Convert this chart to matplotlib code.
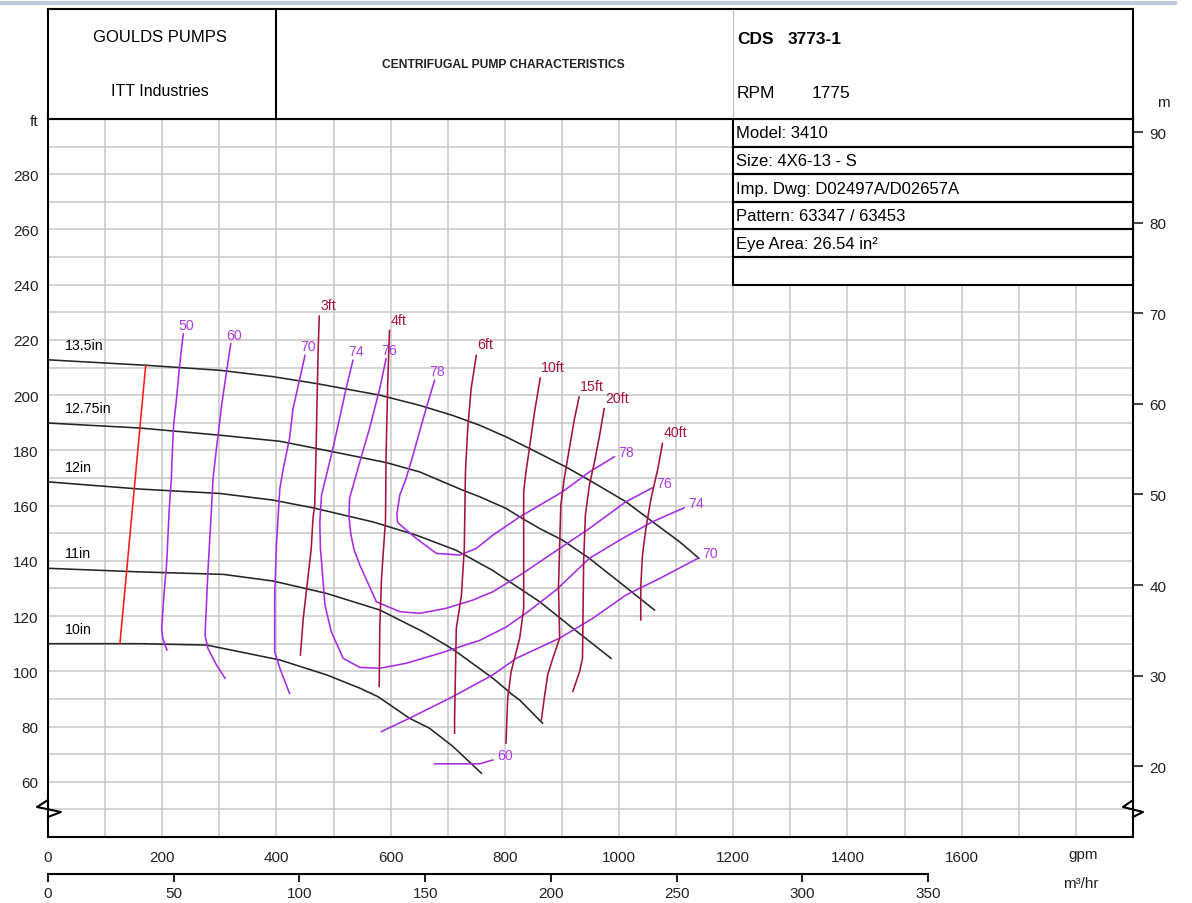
import numpy as np
import matplotlib.pyplot as plt
from matplotlib.lines import Line2D
from matplotlib.patches import Rectangle

plt.rcParams['font.family'] = ['Liberation Sans', 'DejaVu Sans']

W, H = 1192, 904
FT_PER_M = 3.28084
GPM_PER_M3H = 4.402868

# ---- head / capacity curves per impeller diameter (gpm, ft) ----
dia_labels = ['13.5in', '12.75in', '12in', '11in', '10in']
h135_q = [0, 173, 301, 394, 470, 581, 651, 708, 756, 802, 843, 907, 948, 1012, 1059, 1106, 1140]
h135_h = [212.8, 210.8, 209.0, 206.7, 204.2, 200.0, 196.3, 192.7, 189.1, 184.9, 180.7, 174.0, 169.2, 161.4, 154.1, 146.9, 140.9]
h1275_q = [0, 161, 301, 406, 499, 592, 651, 726, 756, 802, 831, 861, 901, 948, 1000, 1062]
h1275_h = [189.9, 188.1, 185.5, 183.3, 179.5, 175.6, 172.2, 165.6, 163.2, 159.0, 155.3, 151.7, 147.5, 140.9, 132.4, 122.2]
h12_q = [0, 161, 301, 394, 464, 569, 645, 715, 779, 826, 861, 919, 986]
h12_h = [168.6, 166.0, 164.4, 162.0, 159.2, 154.1, 149.3, 143.8, 136.5, 130.0, 125.2, 115.6, 104.7]
h11_q = [0, 161, 307, 394, 488, 581, 657, 697, 715, 779, 814, 826, 866]
h11_h = [137.3, 136.0, 135.1, 132.7, 128.2, 122.2, 114.3, 109.5, 107.1, 97.5, 91.4, 89.6, 81.2]
h10_q = [0, 161, 278, 406, 488, 546, 578, 633, 668, 709, 759]
h10_h = [110.0, 110.0, 109.5, 104.1, 98.7, 93.9, 90.8, 83.0, 79.4, 72.8, 63.1]

# ---- efficiency contours (%) ----
eff50_q = [237, 234, 230, 225, 220, 218, 216, 212, 208, 203, 199, 201, 208]
eff50_h = [222.2, 217.4, 209.6, 198.7, 189.1, 180.7, 169.8, 157.8, 139.7, 127.6, 115.6, 112.0, 107.7]
eff60_q = [320, 313, 304, 295, 289, 286, 280, 275, 280, 295, 310]
eff60_h = [218.6, 209.0, 196.3, 180.7, 169.8, 157.8, 136.0, 113.1, 108.3, 102.3, 97.5]
eff60b_q = [677, 756, 779]
eff60b_h = [66.5, 66.5, 67.9]
eff70_q = [450, 441, 429, 423, 412, 406, 400, 397, 397, 406, 423]
eff70_h = [214.4, 206.0, 195.1, 184.3, 173.4, 166.2, 145.7, 127.6, 107.1, 101.1, 92.0]
eff70b_q = [584, 633, 703, 779, 820, 896, 954, 1012, 1071, 1138]
eff70b_h = [78.2, 83.0, 90.2, 98.7, 104.7, 112.0, 119.2, 127.6, 133.6, 140.9]
eff74_q = [534, 522, 499, 479, 476, 477, 479, 485, 496, 517, 546, 581, 627, 686, 756, 802, 840, 890, 948, 1006, 1059, 1114]
eff74_h = [212.6, 202.4, 180.7, 163.8, 154.1, 144.5, 139.7, 124.0, 114.3, 104.7, 101.4, 101.1, 102.9, 106.5, 111.2, 116.0, 121.5, 129.5, 140.9, 148.1, 154.2, 159.2]
eff76_q = [592, 581, 563, 546, 528, 527, 530, 536, 546, 575, 616, 651, 697, 744, 779, 831, 896, 948, 1012, 1059]
eff76_h = [213.2, 202.4, 187.9, 175.8, 162.6, 156.0, 150.0, 144.0, 138.5, 125.2, 121.6, 121.0, 122.8, 125.8, 128.8, 135.4, 144.5, 151.7, 161.4, 166.5]
eff78_q = [677, 662, 639, 627, 616, 611, 612, 621, 645, 680, 721, 750, 779, 826, 901, 948, 992]
eff78_h = [205.4, 195.1, 178.2, 169.8, 163.8, 157.0, 154.0, 152.3, 148.1, 142.7, 142.1, 144.5, 149.3, 155.9, 165.0, 172.2, 177.7]

# ---- NPSHr curves ----
n3_q = [475, 473, 471, 469, 467, 464, 461, 455, 447, 442]
n3_h = [228.6, 215.6, 196.3, 175.8, 160.1, 155.3, 144.5, 133.6, 119.2, 105.9]
n4_q = [598, 595, 592, 591, 590, 584, 581, 580]
n4_h = [223.4, 204.8, 178.2, 154.1, 151.7, 133.6, 115.6, 94.5]
n6_q = [750, 741, 735, 731, 729, 724, 715, 712, 712]
n6_h = [214.4, 202.4, 187.9, 172.2, 144.5, 127.6, 115.6, 83.0, 77.6]
n10_q = [862, 852, 843, 837, 833, 833, 833, 826, 811, 805, 802]
n10_h = [206.2, 193.9, 180.7, 172.2, 165.0, 130.6, 122.8, 112.0, 99.9, 90.2, 74.0]
n15_q = [930, 922, 913, 904, 898, 896, 894, 896, 884, 875, 869, 864]
n15_h = [199.3, 191.5, 180.7, 169.8, 160.1, 145.7, 130.6, 112.0, 104.7, 98.7, 90.2, 82.4]
n20_q = [974, 966, 957, 948, 941, 938, 936, 931, 919]
n20_h = [195.1, 185.5, 175.8, 167.4, 156.5, 139.7, 104.7, 99.9, 92.7]
n40_q = [1076, 1068, 1056, 1047, 1041, 1038, 1038]
n40_h = [182.5, 173.4, 162.6, 151.7, 142.1, 130.6, 118.6]

# minimum flow line
red_q = [171, 126]
red_h = [210.7, 110.1]

info_rows = ['Model: 3410', 'Size: 4X6-13 - S', 'Imp. Dwg: D02497A/D02657A',
             'Pattern: 63347 / 63453', 'Eye Area: 26.54 in\u00b2', '']

BLACK = '#262626'
PURPLE = '#a52ce4'
PURPLE_TXT = '#b03ce8'
MAROON = '#a3143c'
LW = 1.15

fig = plt.figure(figsize=(W / 100, H / 100), dpi=100)
ax = fig.add_axes([48 / W, 1 - 838 / H, 1085 / W, 718 / H])
ax.set_xlim(0, 1900)
ax.set_ylim(40, 300)
ax.set_xticks(np.arange(0, 1601, 200))
ax.set_xticks(np.arange(0, 1901, 100), minor=True)
ax.set_yticks(np.arange(60, 301, 20))
ax.set_yticklabels([str(v) for v in range(60, 281, 20)] + ['ft'])
ax.set_yticks(np.arange(40, 301, 10), minor=True)
ax.grid(True, which='both', color='#c8c8c8', lw=1.1)
ax.set_axisbelow(True)
ax.tick_params(which='both', length=0, labelsize=11, colors='#222222')
ax.tick_params(axis='x', pad=9)
ax.tick_params(axis='y', pad=7)
for s in ax.spines.values():
    s.set_linewidth(1.5)
    s.set_color('black')

ax2 = ax.twinx()
ax2.set_ylim(40 / FT_PER_M, 300 / FT_PER_M)
ax2.set_yticks(np.arange(20, 91, 10))
ax2.tick_params(direction='out', length=7, width=1.2, labelsize=11, pad=5, colors='#222222')
for s in ax2.spines.values():
    s.set_visible(False)

# impeller curves
heads = [(h135_q, h135_h), (h1275_q, h1275_h), (h12_q, h12_h), (h11_q, h11_h), (h10_q, h10_h)]
for lab, (q, h) in zip(dia_labels, heads):
    ax.plot(q, h, color=BLACK, lw=LW, zorder=3)
    ax.annotate(lab, xy=(q[0], h[0]), xytext=(17, 11), textcoords='offset pixels',
                fontsize=10.2, ha='left', va='baseline', color='black')

# efficiency
eff_left = [('50', eff50_q, eff50_h), ('60', eff60_q, eff60_h), ('70', eff70_q, eff70_h),
            ('74', eff74_q, eff74_h), ('76', eff76_q, eff76_h), ('78', eff78_q, eff78_h)]
eff_right = [('78', eff78_q, eff78_h), ('76', eff76_q, eff76_h), ('74', eff74_q, eff74_h),
             ('70', eff70b_q, eff70b_h), ('60', eff60b_q, eff60b_h)]
for q, h in [(eff50_q, eff50_h), (eff60_q, eff60_h), (eff60b_q, eff60b_h), (eff70_q, eff70_h),
             (eff70b_q, eff70b_h), (eff74_q, eff74_h), (eff76_q, eff76_h), (eff78_q, eff78_h)]:
    ax.plot(q, h, color=PURPLE, lw=LW, zorder=4)
for lab, q, h in eff_left:
    ax.annotate(lab, xy=(q[0], h[0]), xytext=(3, 2), textcoords='offset pixels',
                fontsize=10.2, ha='center', va='bottom', color=PURPLE_TXT)
for lab, q, h in eff_right:
    ax.annotate(lab, xy=(q[-1], h[-1]), xytext=(4, 5), textcoords='offset pixels',
                fontsize=10.2, ha='left', va='center', color=PURPLE_TXT)

# NPSHr
npsh = [('3ft', n3_q, n3_h), ('4ft', n4_q, n4_h), ('6ft', n6_q, n6_h), ('10ft', n10_q, n10_h),
        ('15ft', n15_q, n15_h), ('20ft', n20_q, n20_h), ('40ft', n40_q, n40_h)]
for lab, q, h in npsh:
    ax.plot(q, h, color=MAROON, lw=LW, zorder=5)
    ax.annotate(lab, xy=(q[0], h[0]), xytext=(1, 4), textcoords='offset pixels',
                fontsize=10.2, ha='left', va='bottom', color=MAROON)

ax.plot(red_q, red_h, color='#ff1a1a', lw=LW, zorder=5)

# info table
ax.add_patch(Rectangle((1200, 240), 700, 60, facecolor='white', edgecolor='none', zorder=6))
for i, txt in enumerate(info_rows):
    top = 300 - 10 * i
    ax.add_patch(Rectangle((1200, top - 10), 700, 10, facecolor='none',
                           edgecolor='black', lw=1.5, zorder=7, clip_on=False))
    ax.annotate(txt, xy=(1200, top - 5), xytext=(3, 0), textcoords='offset pixels',
                fontsize=12, ha='left', va='center', zorder=8)

# header block
hdr = fig.add_axes([48 / W, 1 - 120 / H, 1085 / W, 110 / H])
hdr.set_xlim(0, 1085)
hdr.set_ylim(110, 0)
hdr.set_xticks([])
hdr.set_yticks([])
for s in hdr.spines.values():
    s.set_linewidth(1.5)
hdr.axvline(228, color='black', lw=1.5)
hdr.axvline(685, color='#bbbbbb', lw=0.8)
hdr.text(112, 27, 'GOULDS PUMPS', fontsize=12, ha='center', va='center')
hdr.text(112, 82, 'ITT Industries', fontsize=11.5, ha='center', va='center')
hdr.text(455, 55, 'CENTRIFUGAL PUMP CHARACTERISTICS', fontsize=8.7, fontweight='bold',
         ha='center', va='center', color='#222222')
hdr.text(689, 29, 'CDS', fontsize=12.5, fontweight='bold', ha='left', va='center')
hdr.text(740, 29, '3773-1', fontsize=12.5, fontweight='bold', ha='left', va='center')
hdr.text(689, 83, 'RPM', fontsize=12.5, ha='left', va='center')
hdr.text(764, 83, '1775', fontsize=12.5, ha='left', va='center')

# m3/hr scale
axm = fig.add_axes([48 / W, 1 - 875 / H, 350 * GPM_PER_M3H * (1085 / 1900) / W, 1e-5])
axm.set_xlim(0, 350)
axm.set_xticks(np.arange(0, 351, 50))
axm.set_yticks([])
for k in ['top', 'left', 'right']:
    axm.spines[k].set_visible(False)
axm.spines['bottom'].set_linewidth(1.5)
axm.tick_params(axis='x', direction='out', length=6, width=1.5, labelsize=11, pad=3, colors='#222222')
axm.patch.set_visible(False)

fig.text(1083 / W, 1 - 855 / H, 'gpm', fontsize=11, ha='center', va='center', color='#222222')
fig.text(1163 / W, 1 - 103 / H, 'm', fontsize=11, ha='center', va='center', color='#222222')
fig.text(1081 / W, 1 - 884 / H, 'm\u00b3/hr', fontsize=11, ha='center', va='center', color='#222222')

# axis break marks
for x0, dl, dr in [(48, 11, 13), (1133, 10, 10)]:
    xs = np.array([x0, x0 - dl, x0 + dr, x0])
    ys = np.array([801, 808, 813, 818])
    fig.add_artist(Line2D(xs / W, 1 - ys / H, color='black', lw=1.5, transform=fig.transFigure))

fig.add_artist(Line2D([0, 1175 / W], [1 - 4 / H] * 2, color='#bccbe0', lw=3, transform=fig.transFigure))

fig.savefig('out.png', dpi=100)
